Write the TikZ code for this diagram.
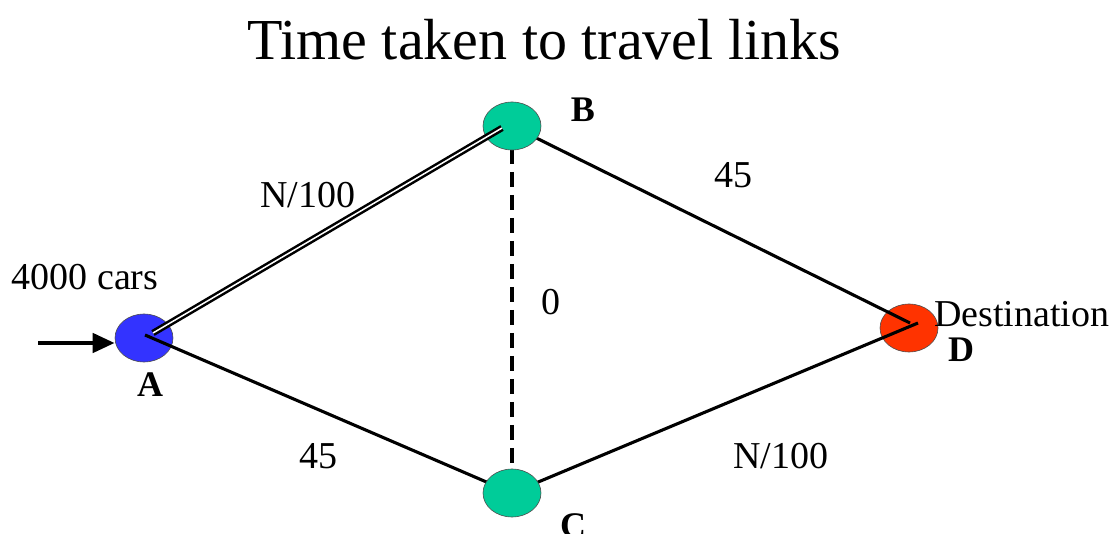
\documentclass[tikz,border=0pt]{standalone}
\usepackage{fontspec}
\setmainfont{Liberation Serif}
\usetikzlibrary{shapes.geometric,arrows.meta,calc}
\definecolor{nodeblue}{HTML}{3333FF}
\definecolor{nodegreen}{HTML}{00CC99}
\definecolor{nodered}{HTML}{FF3300}
\tikzset{
  town/.style={ellipse, draw=black!70, line width=0.6pt, minimum width=58pt, minimum height=48pt, inner sep=0pt},
  link/.style={line width=3.1pt, draw=black},
  lbl/.style={font=\fontsize{38}{40}\selectfont, inner sep=0pt, anchor=base},
  townlbl/.style={font=\fontsize{36}{38}\selectfont\bfseries, inner sep=0pt, anchor=base},
}
\begin{document}
\begin{tikzpicture}[x=1pt,y=-1pt]
\useasboundingbox (0,0) rectangle (1117,534);
% title
\node[font=\fontsize{58}{60}\selectfont, inner sep=0pt, anchor=base] (title) at (544,60) {Time taken to travel links};
% towns (A and D under their links)
\node[town, fill=nodeblue] (A) at (144,338) {};
\node[town, fill=nodered] (D) at (909,328) {};
\coordinate (Bc) at (512,126);
\coordinate (Cc) at (512,493);
% links under B and C
\draw[link] (Bc) -- ($(D.center)+(1,-5)$);
\draw[link] (Cc) -- ($(D.center)+(9,-5)$);
\draw[link] ($(A.center)+(1,-3)$) -- (Cc);
\draw[line width=3.6pt, dash pattern=on 15pt off 8pt] (Bc) -- (Cc);
% B and C on top
\node[town, fill=nodegreen] (B) at (Bc) {};
\node[town, fill=nodegreen] (C) at (Cc) {};
% double link A-B on top
\draw[line width=2.5pt, double=white, double distance=1.5pt] ($(A.center)+(9,-5)$) -- ($(B.center)+(-10,2)$);
% incoming arrow
\coordinate (in) at (38,343);
\draw[line width=4.5pt, -{Triangle[length=22pt,width=19pt]}] (in) -- (in -| A.west);
% labels
\node[lbl] (cars) at (85,290) {4000 cars};
\node[lbl] (lab) at (308,208) {N/100};
\node[lbl] (lbd) at (733,188) {45};
\node[lbl] (lbc) at (551,315) {0};
\node[lbl] (lac) at (318,469) {45};
\node[lbl] (lcd) at (781,469) {N/100};
\node[lbl, anchor=base west] (dest) at (934,327) {Destination};
\node[townlbl] (nA) at (150,397) {A};
\node[townlbl] (nB) at (583,122) {B};
\node[townlbl] (nC) at (573,537) {C};
\node[townlbl] (nD) at (961,362) {D};
\end{tikzpicture}
\end{document}
